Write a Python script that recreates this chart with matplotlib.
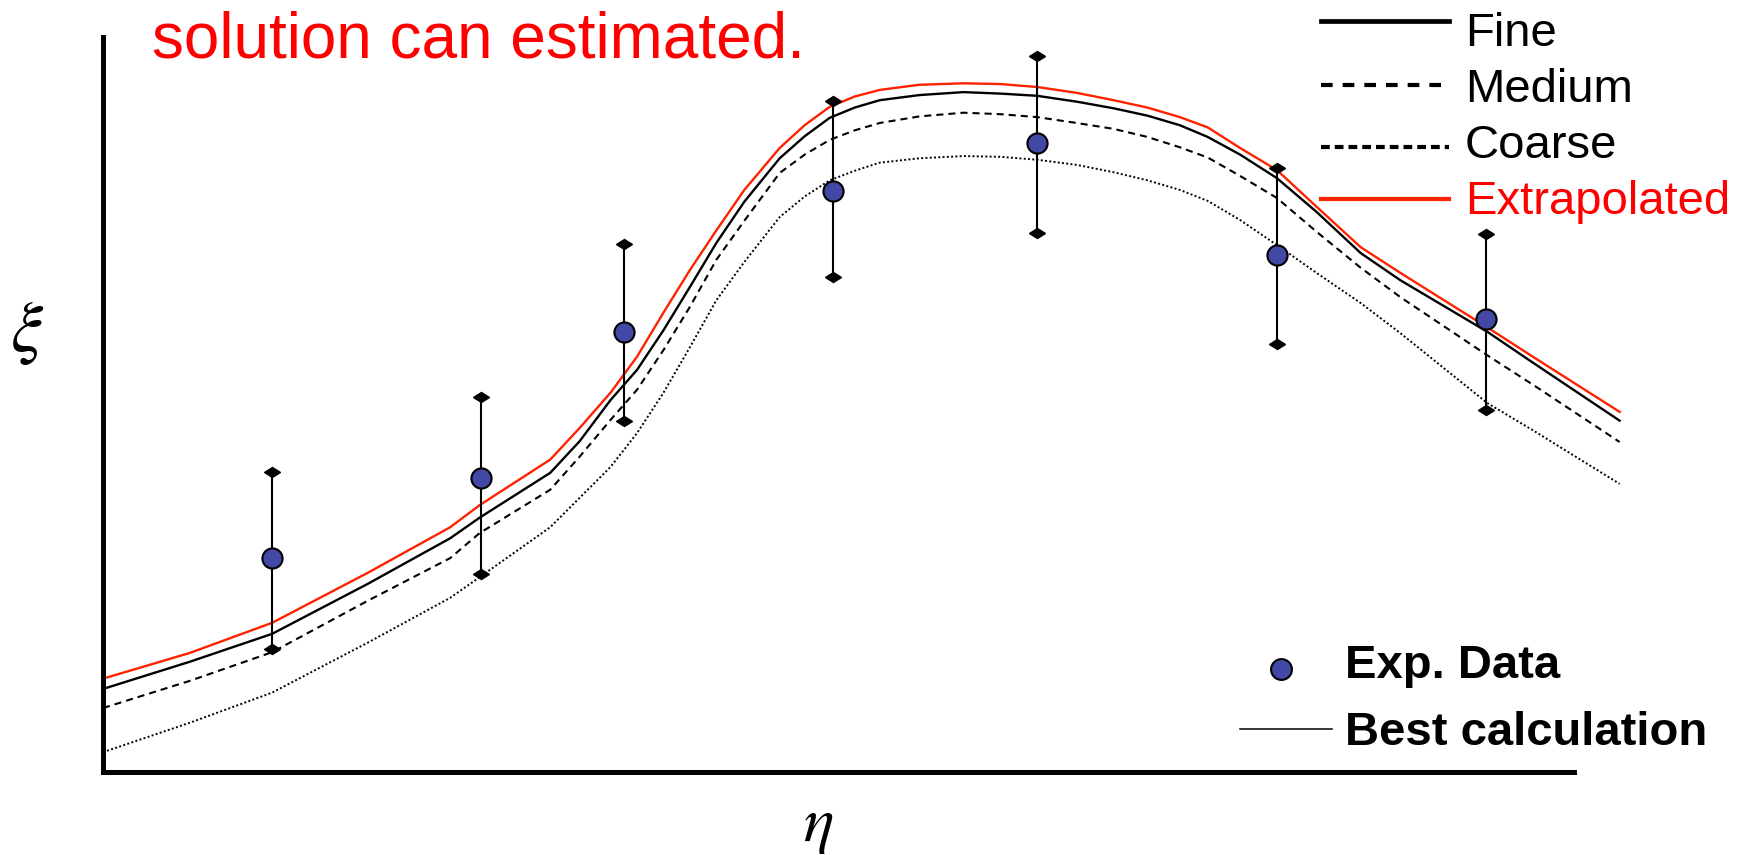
import matplotlib.pyplot as plt
from matplotlib.lines import Line2D
from matplotlib.markers import MarkerStyle
from matplotlib.transforms import Affine2D

plt.rcParams['font.family'] = ['Liberation Sans', 'DejaVu Sans']
plt.rcParams['mathtext.fontset'] = 'stix'

# grid convergence curves (arbitrary units)
eta = [0.00, 0.59, 1.15, 1.80, 2.36, 2.56, 3.04, 3.24, 3.45, 3.63, 3.81, 3.99, 4.17,
       4.36, 4.60, 4.77, 4.94, 5.11, 5.28, 5.55, 5.85, 6.10, 6.35, 6.62, 6.87, 7.10,
       7.32, 7.51, 7.73, 7.98, 8.25, 8.55, 8.82, 9.41, 9.72, 10.31]
xi_fine = [1.13, 1.50, 1.88, 2.56, 3.18, 3.46, 4.07, 4.50, 5.06, 5.47, 6.01, 6.60, 7.20,
           7.76, 8.35, 8.65, 8.90, 9.04, 9.14, 9.21, 9.25, 9.23, 9.20, 9.12, 9.03, 8.93,
           8.80, 8.64, 8.40, 8.08, 7.62, 7.06, 6.69, 5.99, 5.57, 4.78]
xi_medium = [0.87, 1.24, 1.63, 2.33, 2.91, 3.25, 3.84, 4.29, 4.79, 5.20, 5.74, 6.33, 6.97,
             7.50, 8.15, 8.40, 8.60, 8.73, 8.83, 8.92, 8.97, 8.95, 8.91, 8.83, 8.75, 8.64,
             8.50, 8.36, 8.11, 7.81, 7.35, 6.86, 6.46, 5.67, 5.27, 4.49]
xi_coarse = [0.27, 0.67, 1.08, 1.76, 2.37, 2.65, 3.33, 3.73, 4.15, 4.61, 5.16, 5.78, 6.42,
             6.94, 7.55, 7.83, 8.05, 8.18, 8.29, 8.35, 8.38, 8.37, 8.33, 8.26, 8.16, 8.05,
             7.92, 7.77, 7.51, 7.17, 6.79, 6.38, 5.97, 5.02, 4.65, 3.92]
xi_extrap = [1.27, 1.62, 2.03, 2.71, 3.33, 3.63, 4.25, 4.68, 5.16, 5.65, 6.25, 6.83, 7.37,
             7.92, 8.49, 8.80, 9.05, 9.19, 9.28, 9.35, 9.37, 9.36, 9.32, 9.24, 9.14, 9.04,
             8.91, 8.77, 8.49, 8.19, 7.69, 7.14, 6.79, 6.05, 5.65, 4.90]

# experimental points with their uncertainty range
exp_eta = [1.15, 2.57, 3.54, 4.96, 6.35, 7.98, 9.40]
exp_xi = [2.91, 4.00, 5.99, 7.91, 8.56, 7.04, 6.17]
exp_lo = [1.67, 2.69, 4.78, 6.74, 7.34, 5.82, 4.93]
exp_hi = [4.08, 5.10, 7.18, 9.13, 9.74, 8.22, 7.32]

W, H = 1738, 855


def fx(px):
    return px / W


def fy(py):
    return 1 - py / H


fig = plt.figure(figsize=(W / 100, H / 100), dpi=100)
ax = fig.add_axes([fx(103), fy(772), 1574 / W, 735 / H])
ax.set_xlim(0, 10.7)
ax.set_ylim(0, 10)

ax.plot(eta, xi_coarse, color='black', lw=1.4, ls=(0, (1, 1.2)))
ax.plot(eta, xi_medium, color='black', lw=1.5, ls=(0, (3.4, 2.4)))
ax.plot(eta, xi_fine, color='black', lw=1.7)
ax.plot(eta, xi_extrap, color='#FF2200', lw=1.7)

err = [[c - l for c, l in zip(exp_xi, exp_lo)], [h - c for c, h in zip(exp_xi, exp_hi)]]
ax.errorbar(exp_eta, exp_xi, yerr=err, fmt='none', ecolor='black', elinewidth=1.5,
            capsize=0, zorder=4)
flat_diamond = MarkerStyle('D', transform=Affine2D().scale(1.0, 0.68))
ax.plot(exp_eta + exp_eta, exp_lo + exp_hi, ls='none', marker=flat_diamond, ms=7.8,
        color='black', zorder=4)
ax.plot(exp_eta, exp_xi, ls='none', marker='o', ms=14.5, mfc='#4347A6', mec='black',
        mew=1.5, zorder=5)

for side in ['top', 'right']:
    ax.spines[side].set_visible(False)
for side in ['left', 'bottom']:
    ax.spines[side].set_linewidth(3.6)
    ax.spines[side].set_capstyle('projecting')
    ax.spines[side].set_bounds(0, 10)
ax.set_xticks([])
ax.set_yticks([])

# axis symbols
fig.text(fx(27), fy(333), r'$\xi$', fontsize=52, ha='center', va='center')
fig.text(fx(818), fy(826), r'$\eta$', fontsize=46, ha='center', va='center')

fig.text(fx(152), fy(57), 'solution can estimated.', color='#FF0000', fontsize=46,
         va='baseline')

# grid legend, top right
legend_rows = [
    ('Fine', 20.7, 46.5, dict(color='black', lw=3.4), 'black'),
    ('Medium', 85, 102, dict(color='black', lw=3.0, ls=(0, (2.8, 2.4))), 'black'),
    ('Coarse', 146.7, 158.5, dict(color='black', lw=3.0, ls=(0, (2.1, 1.2))), 'black'),
    ('Extrapolated', 199, 214.5, dict(color='#FF2200', lw=3.0), '#FF0000'),
]
for label, ly, ty, style, tcol in legend_rows:
    fig.add_artist(Line2D([fx(1321), fx(1449)], [fy(ly), fy(ly)], **style))
    fig.text(fx(1465), fy(ty), label, fontsize=34, color=tcol, va='baseline')

# data legend, bottom right
fig.add_artist(Line2D([fx(1281)], [fy(669)], ls='none', marker='o', ms=15,
                      mfc='#4347A6', mec='black', mew=1.5))
fig.text(fx(1345), fy(678), 'Exp. Data', fontsize=34, fontweight='bold', va='baseline')
fig.add_artist(Line2D([fx(1240), fx(1332)], [fy(729), fy(729)], color='black', lw=1.1))
fig.text(fx(1345), fy(745), 'Best calculation', fontsize=34, fontweight='bold',
         va='baseline')

fig.savefig('out.png', dpi=100)
